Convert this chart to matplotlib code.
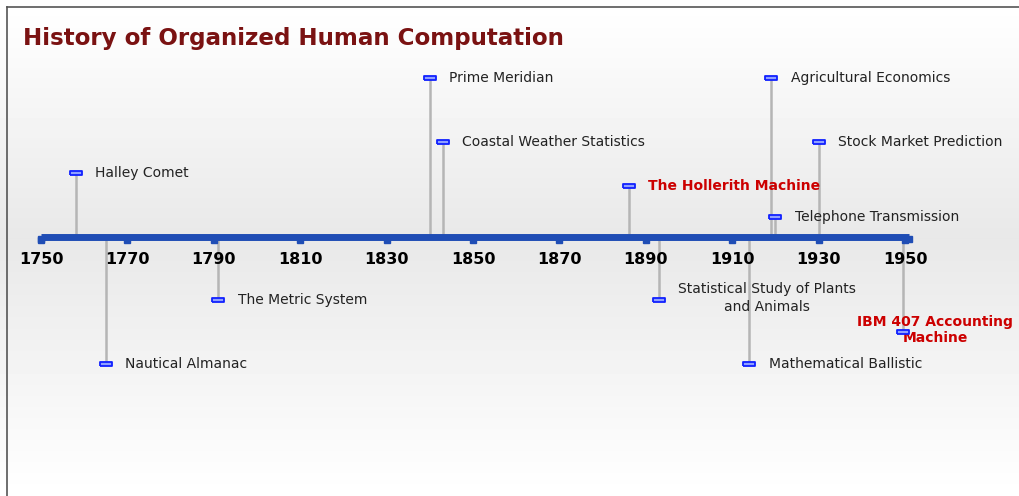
import matplotlib.pyplot as plt
import numpy as np

# data
events = ['Halley Comet', 'Nautical Almanac', 'The Metric System', 'Prime Meridian',
          'Coastal Weather Statistics', 'The Hollerith Machine',
          'Statistical Study of Plants\nand Animals', 'Mathematical Ballistic',
          'Agricultural Economics', 'Telephone Transmission', 'Stock Market Prediction',
          'IBM 407 Accounting\nMachine']
years = [1758, 1765, 1791, 1840, 1843, 1886, 1893, 1914, 1919, 1920, 1930, 1949.5]
levels = [64, -127, -63, 159, 95, 51, -63, -127, 159, 20, 95, -95]
highlight = [False, False, False, False, False, True, False, False, False, False, False, True]
tick_years = [1750, 1770, 1790, 1810, 1830, 1850, 1870, 1890, 1910, 1930, 1950]

fig = plt.figure(figsize=(10.19, 4.96), dpi=100)

# background gradient
bg = fig.add_axes([0, 0, 1, 1])
yy = np.linspace(0, 1, 496)
shade = np.interp(yy, [0, 0.04, 0.48, 0.8, 1.0], [1.0, 0.995, 0.91, 0.965, 1.0])
bg.imshow(np.tile(shade[:, None], (1, 10)), cmap='gray', vmin=0, vmax=1,
          aspect='auto', extent=[0, 1, 0, 1])
bg.set_xlim(0, 1)
bg.set_ylim(0, 1)
bg.axis('off')
bg.plot([7 / 1019, 7 / 1019], [0, 1 - 7 / 496], color='#555555', lw=1.2)
bg.plot([7 / 1019, 1], [1 - 7 / 496, 1 - 7 / 496], color='#555555', lw=1.2)
bg.fill_between([0, 1], 1 - 6 / 496, 1, color='white')

ax = fig.add_axes([0, 0, 1, 1])
ax.patch.set_alpha(0)
ppy = 4.32
ax.set_xlim(1750 - 41 / ppy, 1750 + (1019 - 41) / ppy)
ax.set_ylim(-259, 237)
ax.axis('off')

# main timeline
ax.plot([1750, 1951], [0, 0], color='#1f4db5', lw=5, solid_capstyle='butt', zorder=3)
ax.plot([1750, 1951], [-2, -2], 's', color='#1f4db5', ms=5, zorder=3)
for ty in tick_years:
    ax.plot(ty, -3, 's', color='#1f4db5', ms=5, zorder=3)
    ax.text(ty, -22, str(ty), ha='center', va='center', fontsize=11.5,
            fontweight='bold', color='black')

dash = [(-3, -1), (3, -1), (3, 1), (-3, 1), (-3, -1)]
for name, yr, lv, hl in zip(events, years, levels, highlight):
    ax.plot([yr, yr], [0, lv], color='#b5b5b5', lw=1.8, zorder=2)
    ax.plot(yr, lv, marker=dash, ms=9, color='#1020ff', mfc='#8fa0ff',
            mew=1.3, zorder=4)
    if hl:
        if '\n' in name:
            ax.text(yr + 7.5, lv + 2, name, ha='center', va='center', fontsize=10,
                    fontweight='bold', color='#cc0000', linespacing=1.1)
        else:
            ax.text(yr + 4.5, lv, name, ha='left', va='center', fontsize=10,
                    fontweight='bold', color='#cc0000')
    elif '\n' in name:
        ax.text(yr + 25, lv + 2, name, ha='center', va='center', fontsize=10,
                color='#222222', multialignment='center', linespacing=1.45)
    else:
        ax.text(yr + 4.5, lv, name, ha='left', va='center', fontsize=10,
                color='#222222')

fig.text(23 / 1019, 1 - 38 / 496, 'History of Organized Human Computation',
         ha='left', va='center', fontsize=16.6, fontweight='bold', color='#7a1212')

fig.savefig('out.png', dpi=100)
